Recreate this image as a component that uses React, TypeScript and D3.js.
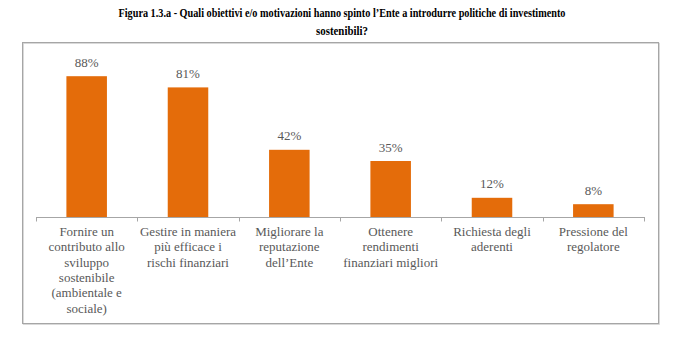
import React from "react";
import * as d3 from "d3";

const categories: string[] = [
  "Fornire un\ncontributo allo\nsviluppo\nsostenibile\n(ambientale e\nsociale)",
  "Gestire in maniera\npiù efficace i\nrischi finanziari",
  "Migliorare la\nreputazione\ndell’Ente",
  "Ottenere\nrendimenti\nfinanziari migliori",
  "Richiesta degli\naderenti",
  "Pressione del\nregolatore",
];
const values: number[] = [88, 81, 42, 35, 12, 8];
const titleLines: string[] = [
  "Figura 1.3.a - Quali obiettivi e/o motivazioni hanno spinto l’Ente a introdurre politiche di investimento",
  "sostenibili?",
];

const W = 684;
const H = 337;
const axisY = 217;
const x0 = 36;
const x1 = 644;

export default function App() {
  const x = d3
    .scaleBand<number>()
    .domain(d3.range(categories.length))
    .range([x0, x1])
    .paddingInner(0.6)
    .paddingOuter(0.3);
  const y = d3.scaleLinear().domain([0, 100]).range([axisY, 57]);
  const step = (x1 - x0) / categories.length;
  const ticks = d3.range(categories.length + 1).map((i) => x0 + i * step);
  const serif = "Liberation Serif, Times New Roman, serif";
  const gray = "#595959";
  const serifStyle = { fontFamily: serif };

  return (
    <svg
      width={W}
      height={H}
      style={{ position: "absolute", left: 0, top: 0, background: "#fff", fontFamily: serif }}
    >
      <rect x={0} y={0} width={W} height={H} fill="#fff" />
      <text
        x={W / 2}
        y={16.5}
        textAnchor="middle"
        style={{ ...serifStyle, fontWeight: "bold", fontSize: "12.5px" }}
        fill="#000"
        textLength={447}
        lengthAdjust="spacingAndGlyphs"
      >
        {titleLines[0]}
      </text>
      <text
        x={W / 2}
        y={34.5}
        textAnchor="middle"
        style={{ ...serifStyle, fontWeight: "bold", fontSize: "12.5px" }}
        fill="#000"
        textLength={52}
        lengthAdjust="spacingAndGlyphs"
      >
        {titleLines[1]}
      </text>
      {/* frame */}
      <rect x={22.5} y={42.5} width={636} height={281} fill="none" stroke="#d0d0d0" strokeWidth={1} transform="translate(0.8,0.8)" />
      <rect x={22.5} y={42.5} width={636} height={281} fill="none" stroke="#a6a6a6" strokeWidth={1} />
      {/* bars */}
      {values.map((v, i) => (
        <rect
          key={i}
          x={x(i)!}
          y={y(v)}
          width={x.bandwidth()}
          height={axisY - y(v)}
          fill="#E46C0A"
        />
      ))}
      {/* value labels */}
      {values.map((v, i) => (
        <text
          key={"l" + i}
          x={x(i)! + x.bandwidth() / 2}
          y={y(v) - 9.5}
          textAnchor="middle"
          style={{ ...serifStyle, fontSize: "13px" }}
          fill={gray}
        >
          {v + "%"}
        </text>
      ))}
      {/* axis */}
      <line x1={x0} x2={x1} y1={axisY + 0.5} y2={axisY + 0.5} stroke="#a6a6a6" strokeWidth={1} />
      {ticks.map((t, i) => (
        <line
          key={"t" + i}
          x1={Math.round(t) + 0.5}
          x2={Math.round(t) + 0.5}
          y1={axisY}
          y2={axisY + 4.5}
          stroke="#a6a6a6"
          strokeWidth={1}
        />
      ))}
      {/* category labels */}
      {categories.map((c, i) => (
        <text
          key={"c" + i}
          textAnchor="middle"
          style={{ ...serifStyle, fontSize: "13px" }}
          fill={gray}
        >
          {c.split("\n").map((line, j) => (
            <tspan key={j} x={x(i)! + x.bandwidth() / 2} y={236 + j * 15.3}>
              {line}
            </tspan>
          ))}
        </text>
      ))}
    </svg>
  );
}
